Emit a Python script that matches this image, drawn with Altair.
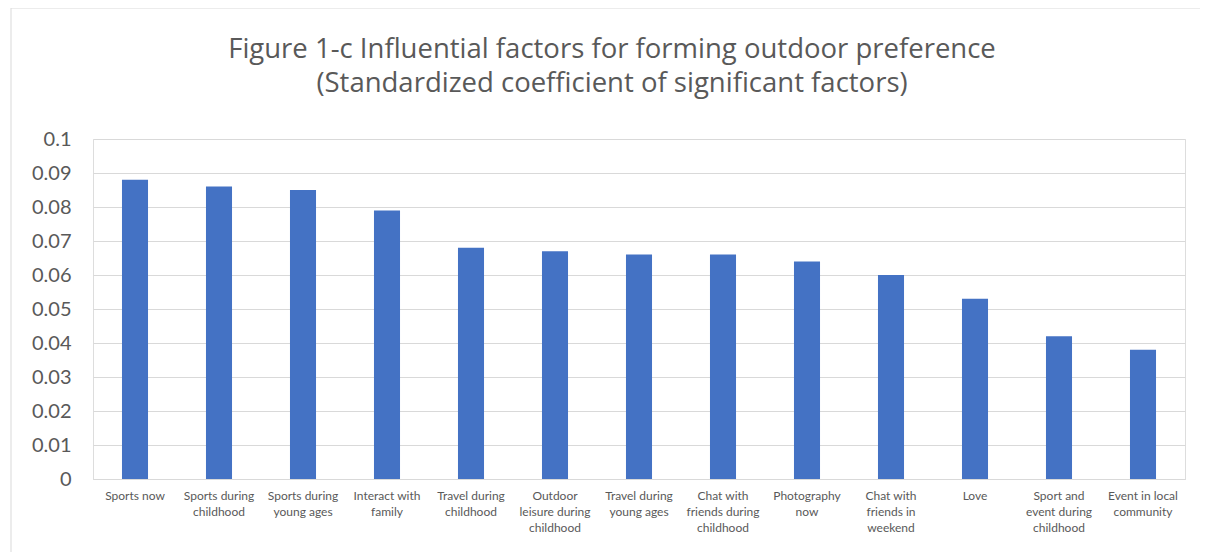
import altair as alt
import pandas as pd

categories = [
    "Sports now",
    "Sports during|childhood",
    "Sports during|young ages",
    "Interact with|family",
    "Travel during|childhood",
    "Outdoor|leisure during|childhood",
    "Travel during|young ages",
    "Chat with|friends during|childhood",
    "Photography|now",
    "Chat with|friends in|weekend",
    "Love",
    "Sport and|event during|childhood",
    "Event in local|community",
]
values = [0.088, 0.086, 0.085, 0.079, 0.068, 0.067, 0.066, 0.066, 0.064, 0.060, 0.053, 0.042, 0.038]
y_ticks = [0, 0.01, 0.02, 0.03, 0.04, 0.05, 0.06, 0.07, 0.08, 0.09, 0.1]

df = pd.DataFrame({"factor": categories, "coef": values})

W, H = 1092, 340
GRAY = "#595959"

bars = alt.Chart(df).mark_bar(color="#4472C4").encode(
    x=alt.X(
        "factor:N",
        sort=categories,
        title=None,
        scale=alt.Scale(paddingInner=0.69, paddingOuter=0.345),
        axis=alt.Axis(
            labelExpr="split(datum.label, '|')",
            labelAngle=0,
            labelFont="Lato",
            labelFontSize=12,
            labelColor=GRAY,
            labelLineHeight=16,
            labelPadding=11,
            ticks=False,
            domainColor="#d9d9d9",
            domainWidth=1,
            labelLimit=200,
        ),
    ),
    y=alt.Y(
        "coef:Q",
        title=None,
        scale=alt.Scale(domain=[0, 0.1], nice=False),
        axis=alt.Axis(
            values=y_ticks,
            format="~g",
            labelFont="Lato",
            labelFontSize=20,
            labelColor=GRAY,
            labelPadding=22,
            ticks=False,
            domain=False,
            grid=True,
            gridColor="#d9d9d9",
            gridWidth=1,
        ),
    ),
)

border = alt.Chart(alt.Data(values=[{"a": 1}])).mark_rect(
    fill=None, stroke="#d9d9d9", strokeWidth=1, clip=False
).encode(
    x=alt.value(-82),
    x2=alt.value(W + 40),
    y=alt.value(-131),
    y2=alt.value(H + 100),
)

chart = (
    alt.layer(border, bars)
    .properties(
        width=W,
        height=H,
        autosize=alt.AutoSizeParams(type="none"),
        padding={"left": 85, "top": 131, "right": 15, "bottom": 73},
        title=alt.TitleParams(
            text=[
                "Figure 1-c Influential factors for forming outdoor preference",
                "(Standardized coefficient of significant factors)",
            ],
            font="Open Sans",
            fontSize=27.5,
            fontWeight="normal",
            color=GRAY,
            lineHeight=34,
            anchor="middle",
            baseline="bottom",
            dx=-27,
            offset=-118,
        ),
    )
    .configure_view(stroke=None)
    .configure(background="white")
)

chart.save("out.html", embed_options={"renderer": "svg", "actions": False})
